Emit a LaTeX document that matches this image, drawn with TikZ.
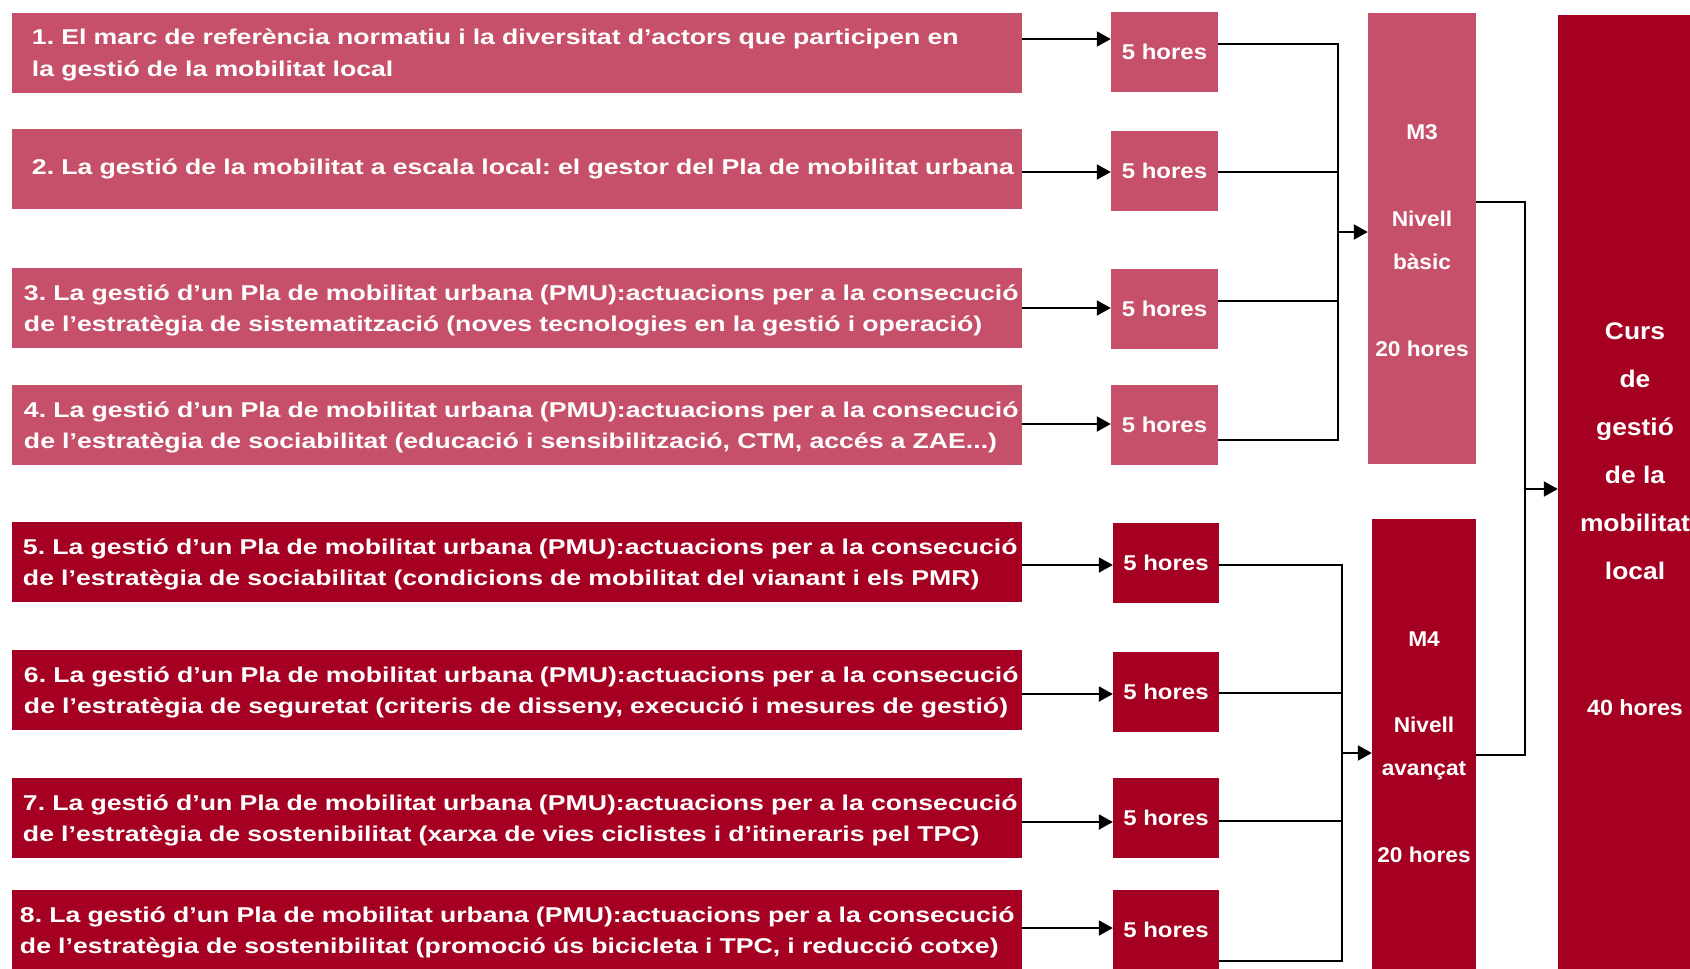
\documentclass[tikz,border=0pt]{standalone}
\usepackage{fontspec}
\setmainfont{Liberation Sans}
\newfontfamily\fA[FakeStretch=1.245]{Liberation Sans}
\newfontfamily\fB[FakeStretch=1.12]{Liberation Sans}
\newfontfamily\fC[FakeStretch=1.06]{Liberation Sans}
\newfontfamily\fD[FakeStretch=1.1]{Liberation Sans}
\usetikzlibrary{arrows.meta}
\definecolor{wine}{RGB}{165,0,33}
\definecolor{winepat}{RGB}{198,80,106}
\frenchspacing
\newcommand\lineonestrut{\rule{0pt}{21bp}}
\begin{document}
\begin{tikzpicture}[x=1bp,y=-1bp,
  darkbox/.style={fill=wine, draw=none, text=white},
  patbox/.style={fill=winepat, draw=none, text=white},
  tbox/.style={minimum width=1010bp, minimum height=80bp, inner sep=0pt, text width=#1, align=left,
    font=\fA\bfseries\fontsize{21.4bp}{31.5bp}\selectfont},
  hbox/.style={minimum width=#1, minimum height=80bp, inner sep=0pt,
    font=\fB\bfseries\fontsize{21.4bp}{26bp}\selectfont},
  mbox/.style={inner sep=0pt, align=center, font=\fC\bfseries\fontsize{21.4bp}{43bp}\selectfont},
  conn/.style={line width=2bp, black},
  arr/.style={conn, -{Triangle[length=14bp,width=15bp]}},
]
\useasboundingbox (0,0) rectangle (1690,968);
\clip (0,0) rectangle (1690,968);

% text boxes
\node[tbox=970bp, patbox] (t1) at (517,52.5) {\lineonestrut\mbox{1. El marc de referència normatiu i la diversitat d’actors que participen en}\\\mbox{la gestió de la mobilitat local}};
\node[tbox=970bp, patbox] (t2) at (517,169) {\mbox{2. La gestió de la mobilitat a escala local: el gestor del Pla de mobilitat urbana}};
\node[tbox=986bp, patbox] (t3) at (517,308) {\lineonestrut\mbox{3. La gestió d’un Pla de mobilitat urbana (PMU):actuacions per a la consecució}\\\mbox{de l’estratègia de sistematització (noves tecnologies en la gestió i operació)}};
\node[tbox=986bp, patbox] (t4) at (517,425) {\lineonestrut\mbox{4. La gestió d’un Pla de mobilitat urbana (PMU):actuacions per a la consecució}\\\mbox{de l’estratègia de sociabilitat (educació i sensibilització, CTM, accés a ZAE...)}};
\node[tbox=988bp, darkbox] (t5) at (517,562) {\lineonestrut\mbox{5. La gestió d’un Pla de mobilitat urbana (PMU):actuacions per a la consecució}\\\mbox{de l’estratègia de sociabilitat (condicions de mobilitat del vianant i els PMR)}};
\node[tbox=986bp, darkbox] (t6) at (517,690) {\lineonestrut\mbox{6. La gestió d’un Pla de mobilitat urbana (PMU):actuacions per a la consecució}\\\mbox{de l’estratègia de seguretat (criteris de disseny, execució i mesures de gestió)}};
\node[tbox=988bp, darkbox] (t7) at (517,818) {\lineonestrut\mbox{7. La gestió d’un Pla de mobilitat urbana (PMU):actuacions per a la consecució}\\\mbox{de l’estratègia de sostenibilitat (xarxa de vies ciclistes i d’itineraris pel TPC)}};
\node[tbox=994bp, darkbox] (t8) at (517,930) {\lineonestrut\mbox{8. La gestió d’un Pla de mobilitat urbana (PMU):actuacions per a la consecució}\\\mbox{de l’estratègia de sostenibilitat (promoció ús bicicleta i TPC, i reducció cotxe)}};

% hour boxes
\node[hbox=107bp, patbox] (h1) at (1164.5,52) {5 hores};
\node[hbox=107bp, patbox] (h2) at (1164.5,170.5) {5 hores};
\node[hbox=107bp, patbox] (h3) at (1164.5,308.5) {5 hores};
\node[hbox=107bp, patbox] (h4) at (1164.5,425) {5 hores};
\node[hbox=106bp, darkbox] (h5) at (1166,562.5) {5 hores};
\node[hbox=106bp, darkbox] (h6) at (1166,691.5) {5 hores};
\node[hbox=106bp, darkbox] (h7) at (1166,817.5) {5 hores};
\node[hbox=106bp, darkbox] (h8) at (1166,930) {5 hores};

% modules
\node[mbox, patbox, minimum width=108bp, minimum height=451bp] (m3) at (1422,238.5) {\rule{0pt}{19bp}M3\\[44bp]Nivell\\bàsic\\[44bp]20 hores};
\node[mbox, darkbox, minimum width=104bp, minimum height=456bp] (m4) at (1424,747) {M4\\[43bp]Nivell\\avançat\\[44bp]20 hores};

% course
\node[darkbox, minimum width=154bp, minimum height=960bp, inner sep=0pt] (curs) at (1635,495) {};
\node[inner sep=0pt, align=center, text=white, font=\fD\bfseries\fontsize{24bp}{48bp}\selectfont] (curstxt) at (1635,519.5)
  {Curs\\de\\gestió\\de la\\mobilitat\\local\\[88bp]{\fC\fontsize{22bp}{48bp}\selectfont 40 hores}};

% bus coordinates
\coordinate (bus3) at (1338,0);
\coordinate (bus4) at (1342,0);
\coordinate (busc) at (1525,0);

% text -> hours
\draw[arr] ([yshift=13.5bp]t1.east) -- ([yshift=13.5bp]t1.east -| h1.west);
\draw[arr] ([yshift=-3bp]t2.east) -- ([yshift=-3bp]t2.east -| h2.west);
\draw[arr] (t3.east) -- (t3.east -| h3.west);
\draw[arr] ([yshift=1bp]t4.east) -- ([yshift=1bp]t4.east -| h4.west);
\draw[arr] ([yshift=-3bp]t5.east) -- ([yshift=-3bp]t5.east -| h5.west);
\draw[arr] ([yshift=-4bp]t6.east) -- ([yshift=-4bp]t6.east -| h6.west);
\draw[arr] ([yshift=-4bp]t7.east) -- ([yshift=-4bp]t7.east -| h7.west);
\draw[arr] ([yshift=2bp]t8.east) -- ([yshift=2bp]t8.east -| h8.west);

% hours -> M3
\draw[conn] ([yshift=8bp]h1.east) -| ([yshift=-15bp]h4.east -| bus3) -- ([yshift=-15bp]h4.east);
\draw[conn] ([yshift=-1.5bp]h2.east) -- ([yshift=-1.5bp]h2.east -| bus3);
\draw[conn] ([yshift=7.5bp]h3.east) -- ([yshift=7.5bp]h3.east -| bus3);
\draw[arr] ([yshift=6.5bp]m3.west -| bus3) -- ([yshift=6.5bp]m3.west);

% hours -> M4
\draw[conn] ([yshift=-2.5bp]h5.east) -| ([yshift=-31bp]h8.east -| bus4) -- ([yshift=-31bp]h8.east);
\draw[conn] ([yshift=-1.5bp]h6.east) -- ([yshift=-1.5bp]h6.east -| bus4);
\draw[conn] ([yshift=-3.5bp]h7.east) -- ([yshift=-3.5bp]h7.east -| bus4);
\draw[arr] ([yshift=-6bp]m4.west -| bus4) -- ([yshift=-6bp]m4.west);

% modules -> course
\draw[conn] ([yshift=36.5bp]m3.east) -| ([yshift=-8bp]m4.east -| busc) -- ([yshift=-8bp]m4.east);
\draw[arr] ([yshift=6bp]curs.west -| busc) -- ([yshift=6bp]curs.west);
\end{tikzpicture}
\end{document}
